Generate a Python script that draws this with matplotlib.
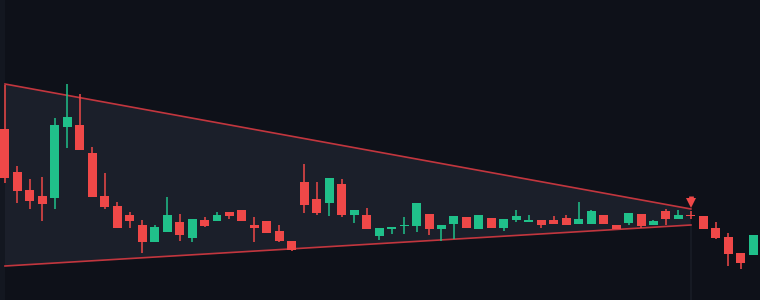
import matplotlib
matplotlib.use("Agg")
import matplotlib.pyplot as plt
import numpy as np

opens = [17.07, 12.77, 11.0, 10.4, 10.23, 17.33, 17.5, 14.7, 10.4, 9.4,
         8.5, 7.5, 5.83, 6.83, 7.8, 6.23, 8.0, 7.93, 8.8, 9.0,
         7.47, 7.9, 6.9, 5.9, 11.8, 10.1, 9.73, 11.6, 8.5, 8.5,
         6.43, 7.1, 7.37, 7.43, 8.6, 7.13, 7.63, 8.27, 7.13, 8.2,
         7.23, 8.03, 7.8, 7.97, 8.0, 8.2, 7.6, 7.57, 8.5, 7.47,
         7.73, 8.6, 7.47, 8.9, 8.13, 8.53, 8.4, 7.2, 6.3, 4.7, 4.5]
highs = [21.5, 13.4, 12.1, 12.27, 18.17, 21.6, 20.6, 15.27, 12.7, 9.77,
         8.77, 8.0, 7.5, 10.3, 8.6, 8.1, 8.3, 8.77, 8.8, 9.0,
         8.27, 7.9, 7.5, 5.9, 13.6, 11.8, 12.2, 12.1, 9.0, 9.2,
         7.17, 7.3, 8.27, 9.7, 8.6, 7.5, 8.4, 8.27, 8.5, 8.2,
         8.07, 9.0, 8.5, 7.97, 8.4, 8.53, 9.8, 8.97, 8.5, 7.47,
         8.67, 8.6, 8.03, 9.07, 9.0, 8.9, 8.4, 7.8, 6.73, 4.7, 6.5]
lows = [11.7, 9.73, 9.13, 7.93, 9.13, 15.23, 15.03, 10.33, 9.1, 7.23,
        7.23, 4.73, 5.83, 6.83, 5.93, 5.8, 7.33, 7.93, 8.13, 7.93,
        5.83, 6.67, 5.83, 4.9, 8.73, 8.5, 8.4, 8.3, 7.73, 7.1,
        6.03, 6.6, 6.6, 6.83, 6.53, 5.9, 6.13, 7.23, 7.13, 7.23,
        6.87, 7.83, 7.8, 7.23, 7.63, 7.53, 7.6, 7.57, 7.63, 7.13,
        7.53, 7.23, 7.47, 7.53, 8.13, 8.07, 7.13, 6.1, 3.4, 3.07, 4.5]
closes = [12.23, 10.93, 9.93, 9.63, 17.5, 18.3, 15.03, 10.33, 9.33, 7.23,
          7.93, 5.8, 7.3, 8.5, 6.5, 8.1, 7.4, 8.5, 8.43, 7.93,
          7.23, 6.73, 5.93, 5.0, 9.5, 8.7, 12.2, 8.53, 9.0, 7.1,
          7.17, 7.3, 7.47, 9.7, 7.13, 7.5, 8.4, 7.23, 8.5, 7.23,
          8.07, 8.4, 8.0, 7.53, 7.63, 7.53, 8.07, 8.87, 7.63, 7.13,
          8.67, 7.43, 7.9, 8.13, 8.5, 8.43, 7.13, 6.2, 4.63, 3.73, 6.5]

# triangle pattern: (start index, end index), upper and lower price at each end
tri_idx = [0, 55]
tri_upper = [21.6, 9.1]
tri_lower = [3.4, 7.5]
signal_idx = 55
arrow_top = 10.45
arrow_tip = 9.45

BG = "#0e1119"
FILL = "#1b1f2a"
UP = "#20c08a"
DOWN = "#ef4848"
LINE = "#c2363e"

fig = plt.figure(figsize=(7.6, 3.0), dpi=100, facecolor=BG)
ax = fig.add_axes([0, 0, 1, 1])
ax.set_facecolor(BG)

n = len(opens)
x = np.arange(n)
o = np.array(opens); c = np.array(closes); h = np.array(highs); l = np.array(lows)
up = c >= o
colors = np.where(up, UP, DOWN)

# subtle pattern guides
ax.axvspan(-0.45, tri_idx[0], color="#131720", lw=0, zorder=0)
ax.plot([signal_idx, signal_idx], [0, tri_lower[1]], color="#181c26", lw=1.2, zorder=0.5)

# triangle
ax.fill([tri_idx[0], tri_idx[1], tri_idx[1], tri_idx[0]],
        [tri_upper[0], tri_upper[1], tri_lower[1], tri_lower[0]],
        color=FILL, lw=0, zorder=1)
ax.plot(tri_idx, tri_upper, color=LINE, lw=1.2, zorder=2)
ax.plot(tri_idx, tri_lower, color=LINE, lw=1.2, zorder=2)

# candles
ax.vlines(x, l, h, colors=colors, lw=1.1, zorder=3)
body_bottom = np.minimum(o, c)
body_h = np.maximum(np.abs(c - o), 0.1)
ax.bar(x, body_h, bottom=body_bottom, width=0.72, color=colors, lw=0, zorder=4)

# breakout arrow: stem + head
stem_bottom = arrow_tip + 0.45
ax.vlines([signal_idx], [stem_bottom], [arrow_top], colors=DOWN, lw=3.4, zorder=5)
ax.plot([signal_idx], [arrow_tip + 0.25], marker="v", markersize=7.8,
        color=DOWN, markeredgewidth=0, zorder=5)

ax.set_xlim(-0.40, 60.54)
ax.set_ylim(0, 30)
ax.axis("off")

fig.savefig("out.png", dpi=100, facecolor=BG)
